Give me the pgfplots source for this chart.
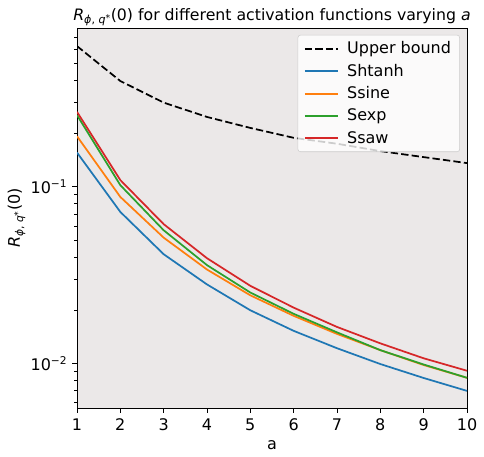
\documentclass[border=0pt]{standalone}
\usepackage{fontspec}
\setmainfont{DejaVu Sans}
\usepackage{pgfplots}
\pgfplotsset{compat=1.18}
\definecolor{bgcol}{RGB}{235,232,232}
\definecolor{tabblue}{HTML}{1F77B4}
\definecolor{taborange}{HTML}{FF7F0E}
\definecolor{tabgreen}{HTML}{2CA02C}
\definecolor{tabred}{HTML}{D62728}
\newcommand{\Rlab}{\textit{R}\textsubscript{\textit{ϕ}, \textit{q}\raisebox{0.35ex}{\scriptsize *}}(0)}
\begin{document}
\begin{tikzpicture}
\begin{axis}[name=ax,
  scale only axis, width=292.5pt, height=285pt,
  ymode=log, xmin=1, xmax=10, ymin=0.0056, ymax=0.79,
  axis background/.style={fill=bgcol},
  xtick={1,2,3,4,5,6,7,8,9,10},
  ytick={0.01,0.1}, yticklabels={10\textsuperscript{−2},10\textsuperscript{−1}},
  minor ytick={0.006,0.007,0.008,0.009,0.02,0.03,0.04,0.05,0.06,0.07,0.08,0.09,0.2,0.3,0.4,0.5,0.6,0.7},
  tick align=outside, xtick pos=bottom, ytick pos=left,
  major tick length=3.7pt, minor tick length=2.2pt,
  every tick/.style={black, line width=0.6pt},
  axis line style={line width=0.6pt},
  /pgf/number format/assume math mode=true,
  ticklabel style={font=\fontsize{12}{14}\selectfont},
  xticklabel style={yshift=-1pt},
  label style={font=\fontsize{12}{14}\selectfont},
  xlabel={a},
  ylabel={\Rlab},
  ylabel style={yshift=-3pt},
  title={\Rlab{} for different activation functions varying \textit{a}},
  title style={font=\fontsize{11.8}{13}\selectfont, yshift=-8pt},
  legend style={at={(0.982,0.982)}, anchor=north east, fill=white, fill opacity=0.8, text opacity=1, draw opacity=1, draw=black!20, rounded corners=2pt, font=\fontsize{12}{14}\selectfont, row sep=2.2pt, inner xsep=4.5pt, inner ysep=3pt,
    /tikz/every odd column/.append style={column sep=4pt}},
  legend cell align=left,
  legend image code/.code={\draw[#1, line width=1.4pt, draw opacity=1] (0cm,0cm) -- (0.88cm,0cm);},
]
\addplot[color=black, line width=1.3pt, dash pattern=on 5.5pt off 2.4pt] coordinates {(1,0.624) (2,0.396) (3,0.299) (4,0.248) (5,0.215) (6,0.189) (7,0.175) (8,0.159) (9,0.147) (10,0.136)};
\addlegendentry{Upper bound}
\addplot[color=tabblue, line width=1.3pt] coordinates {(1,0.156) (2,0.072) (3,0.0415) (4,0.0280) (5,0.0200) (6,0.0153) (7,0.0122) (8,0.00993) (9,0.00828) (10,0.0070)};
\addlegendentry{Shtanh}
\addplot[color=taborange, line width=1.3pt] coordinates {(1,0.193) (2,0.0875) (3,0.0515) (4,0.0340) (5,0.0243) (6,0.0186) (7,0.0147) (8,0.0119) (9,0.0098) (10,0.0083)};
\addlegendentry{Ssine}
\addplot[color=tabgreen, line width=1.3pt] coordinates {(1,0.254) (2,0.102) (3,0.0567) (4,0.0360) (5,0.0252) (6,0.0191) (7,0.0150) (8,0.0119) (9,0.00987) (10,0.0083)};
\addlegendentry{Sexp}
\addplot[color=tabred, line width=1.3pt] coordinates {(1,0.265) (2,0.109) (3,0.0614) (4,0.0394) (5,0.0275) (6,0.0207) (7,0.0161) (8,0.0130) (9,0.0107) (10,0.0091)};
\addlegendentry{Ssaw}
\end{axis}
\pgfresetboundingbox
\path ([shift={(-57.75pt,-36pt)}]ax.south west) rectangle ([shift={(12.75pt,21pt)}]ax.north east);
\end{tikzpicture}
\end{document}
